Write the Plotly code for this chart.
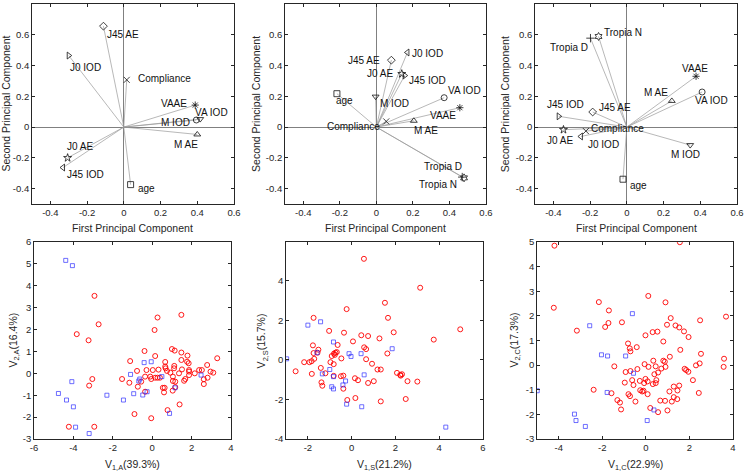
import plotly.graph_objects as go

# ---- PCA loadings (first / second principal component) ----
names_a = ["J45 AE", "J0 IOD", "Compliance", "VAAE", "VA IOD", "M IOD", "M AE", "J0 AE", "J45 IOD", "age"]
pc1_a = [-0.111, -0.300, 0.016, 0.389, 0.395, 0.416, 0.400, -0.306, -0.331, 0.037]
pc2_a = [0.656, 0.465, 0.307, 0.143, 0.046, 0.052, -0.048, -0.200, -0.263, -0.374]

names_s = ["J0 IOD", "J45 AE", "J0 AE", "J45 IOD", "VA IOD", "age", "M IOD", "VAAE",
           "Compliance", "M AE", "Tropia D", "Tropia N"]
pc1_s = [0.170, 0.082, 0.139, 0.155, 0.371, -0.216, -0.004, 0.457, 0.054, 0.205, 0.470, 0.480]
pc2_s = [0.485, 0.435, 0.346, 0.335, 0.191, 0.217, 0.198, 0.126, 0.037, 0.041, -0.325, -0.330]

names_c = ["Tropia D", "Tropia N", "VAAE", "VA IOD", "M AE", "J45 AE", "J45 IOD", "J0 AE",
           "Compliance", "J0 IOD", "M IOD", "age"]
pc1_c = [-0.198, -0.154, 0.377, 0.410, 0.245, -0.186, -0.371, -0.345, -0.223, -0.250, 0.345, -0.021]
pc2_c = [0.578, 0.589, 0.330, 0.228, 0.170, 0.098, 0.070, -0.017, -0.026, -0.061, -0.117, -0.339]

# ---- scores, group A ----
a_red_x = [-2.93, -2.72, -3.83, -3.23, -3.04, -3.20, -4.23, -2.94, -0.90, -0.05, 0.27, 0.12, 1.48,
           -0.39, 0.15, -1.12, -1.53, -1.16, -0.77, -0.73, -0.56, -0.36, -0.29, -0.36, -0.10, -0.05,
           0.03, 0.15, 0.27, 0.32, 0.39, 0.66, 0.66, 0.68, 0.75, 0.54, 0.60, 0.63, 0.92, 0.78, 1.00,
           1.14, 1.12, 1.11, 1.05, 1.05, 1.04, 1.17, 1.17, 1.36, 1.39, 1.48, 1.48, 1.51, 1.62, 1.68,
           1.79, 1.77, 1.85, 1.87, 1.87, 1.87, 2.16, 2.38, 2.52, 2.62, 2.62, 2.79, 2.81, 2.96, 3.10, 3.30]
a_red_y = [3.54, 2.24, 1.79, 1.51, -0.26, -0.56, -2.44, -2.44, -1.86, -2.05, 2.55, 1.98, 2.67,
           1.02, 0.79, 0.56, -0.26, -0.43, 0.11, -0.61, -0.38, -0.84, 0.15, -0.15, -0.15, -0.26,
           0.15, -0.20, -0.20, 0.17, -0.20, 0.52, 0.31, 0.23, 0.11, -0.66, -0.87, -0.66, 0.03, -1.68, 1.11,
           1.04, 0.34, 0.23, -0.15, -0.35, -0.79, -0.38, -0.63, 0.00, -1.42, 0.95, 0.61, 0.18, -0.34, -0.26,
           0.81, 0.53, 0.46, 0.08, -0.08, 0.15, 0.00, 0.15, 0.15, -0.27, -0.49, 0.38, -0.20, 0.08, 0.03, 0.69]
a_blue_x = [-4.39, -4.05, -4.08, -4.76, -4.35, -4.00, -3.89, -3.20, -2.30, -1.46, -1.10, -0.94,
            -0.63, -0.68, -0.48, -0.41, -0.26, -0.05, 0.49, 1.16, 0.88, 2.48]
a_blue_y = [5.16, 4.92, -0.38, -0.92, -1.22, -1.53, -2.46, -2.75, -1.00, -1.22, -0.05, -0.93,
            -0.26, -0.35, -0.99, 0.49, -0.84, 0.53, -0.15, -0.66, -1.83, -0.08]

# ---- scores, group S ----
s_red_x = [0.56, 3.13, 1.52, -0.23, -1.74, 1.66, -1.03, -0.35, 0.44, 0.75, 1.27, 1.92, 4.96, 3.75,
           0.06, -1.77, -0.64, 0.57, 0.66, 1.63, -1.52, -1.56, -1.74, -0.91, -0.81, -0.74, -0.68, -0.77,
           -1.71, -1.83, -2.17, -1.93, -2.56, -0.97, -0.82, -0.47, 0.66, 0.93, -1.41, -1.82, -1.20, -1.38,
           -1.34, -0.82, -0.49, -0.38, -0.38, 0.15, 0.29, 0.75, 1.01, 1.18, 1.33, 2.07, 2.22, 2.24, 2.30,
           2.55, 3.00, -0.20, 0.17, 1.33, 2.47]
s_red_y = [5.10, 3.64, 2.88, 2.56, 2.12, 2.12, 1.46, 1.37, 1.24, 1.20, 1.08, 1.39, 1.54, 1.02,
           0.93, 0.73, 0.75, 0.63, 0.54, 0.32, 0.51, 0.36, 0.34, 0.19, 0.31, 0.36, 0.39, 0.25,
           0.05, -0.07, -0.12, -0.12, -0.58, -0.12, -0.22, 0.07, 0.03, -0.20, -0.41, -0.71, -0.68, -1.14,
           -1.31, -0.81, -0.83, -0.80, -1.46, -0.93, -1.03, -1.17, -1.08, -0.49, -0.49, -0.66, -0.76, -0.80, -0.73,
           -1.08, -1.10, -2.03, -1.93, -2.10, -1.98]
s_blue_x = [-2.97, -2.00, -1.42, -1.58, -1.34, -1.00, -0.83, -0.83, -0.91, -0.83, -0.28, -0.40,
            -0.12, -0.03, 0.43, 0.57, -0.23, 0.46, 1.85, 4.30]
s_blue_y = [0.05, 1.75, 1.92, 0.36, -0.71, -0.49, 0.90, -0.85, -1.36, -1.47, -1.07, -1.27,
            0.31, 0.17, 0.31, -0.76, -2.24, -2.37, 0.56, -3.40]

# ---- scores, group C ----
c_red_x = [-4.20, 1.56, -4.23, -3.17, -2.16, -1.70, -1.72, -1.87, -1.10, 0.11, 0.90, 1.14, 0.97, 1.36,
           1.53, 1.75, 1.96, 2.49, 3.68, -0.02, 0.31, 0.53, 0.80, 1.58, 2.53, -0.82, -0.42, -0.74, -0.71,
           -1.45, -0.93, -0.71, -0.63, -0.57, -0.39, -0.06, 0.12, 0.34, 0.45, 0.71, 0.90, 0.80, 0.87, 1.10,
           0.39, 0.56, -0.02, 0.08, -0.08, 0.48, 0.45, 0.32, -0.28, -0.11, -0.17, -0.26, 0.08, -0.97, -0.80,
           -0.73, -1.31, -1.19, -1.14, -0.48, -1.58, -2.40, 1.08, 1.28, 1.53, 1.45, 1.28, 1.19, 0.88, 0.66,
           1.44, 0.99, 0.56, 0.20, 1.78, 1.85, 1.95, 2.30, 2.16, 2.47, 2.43, 3.59, 3.57]
c_red_y = [4.85, 4.99, 2.33, 1.40, 2.56, 2.22, 1.71, 1.55, 1.74, 2.81, 2.55, 1.91, 1.64, 1.61,
           1.53, 1.37, 1.14, 1.82, 1.97, 1.21, 1.34, 1.36, 0.96, 0.62, 0.46, 0.88, 0.73, 0.68, 0.56,
           -0.05, -0.28, -0.24, -0.61, -0.81, -0.16, 0.04, -0.07, 0.18, -0.05, -0.14, -0.07, 0.18, 0.14, 0.34,
           -0.37, -0.30, -0.56, -0.66, -0.73, -0.61, -0.73, -0.77, -0.64, -1.04, -1.07, -1.02, -1.18, -0.71, -1.18,
           -1.26, -1.42, -1.52, -1.80, -1.48, -1.14, -1.00, -1.07, -0.87, -0.83, -1.03, -1.30, -1.48, -1.45, -1.44,
           -1.38, -1.84, -1.91, -1.74, -0.15, -0.20, -0.27, -0.01, -0.61, 0.07, -1.13, 0.26, -0.07]
c_blue_x = [-4.99, -3.28, -3.21, -2.78, -2.58, -2.04, -1.76, -1.78, -0.93, -0.62, -0.57, 0.37, 0.06]
c_blue_y = [-1.04, -1.99, -2.25, -2.49, 1.60, 0.42, 0.37, -1.11, 0.37, 2.09, -0.33, -1.82, -2.25]

# ---- marker symbols and label placement (style) ----
sym_a = ["diamond-open", "triangle-right-open", "x-thin-open", "asterisk-open", "circle-open",
         "triangle-down-open", "triangle-up-open", "star-open", "triangle-left-open", "square-open"]
lab_a = [("left", 2, -8), ("left", -1, -12), ("left", 9, 1), ("right", -6, 2), ("left", -3, 8),
         ("right", -8, -3), ("center", -11, -10), ("left", -3, 11), ("left", 2, -7), ("left", 5, -4)]
sym_s = ["triangle-left-open", "diamond-open", "star-open", "triangle-right-open", "circle-open",
         "square-open", "triangle-down-open", "asterisk-open", "x-thin-open", "triangle-up-open",
         "cross-thin-open", "hexagram-open"]
lab_s = [("left", 3, -1), ("right", -9, 0), ("right", -7, 0), ("left", 2, -5), ("left", 2, 7),
         ("left", -3, -7), ("left", 2, -7), ("right", -2, -8), ("right", -4, -5), ("left", -2, -10),
         ("right", 2, 11), ("right", -5, -7)]
sym_c = ["cross-thin-open", "hexagram-open", "asterisk-open", "circle-open", "triangle-up-open",
         "diamond-open", "triangle-right-open", "star-open", "x-thin-open", "triangle-left-open",
         "triangle-down-open", "square-open"]
lab_c = [("right", 0, -9), ("left", 3, 4), ("center", -1, 8), ("left", -9, -8), ("right", -2, 8),
         ("left", 4, 5), ("left", -14, 12), ("left", -18, -11), ("left", 3, 3), ("left", 5, -8),
         ("center", -5, -9), ("left", 5, -6)]

FONT = "Liberation Sans, Arial, sans-serif"
INK = "#262626"
GRAY = "#999999"

fig = go.Figure()
annotations = []

biplots = [
    (names_a, pc1_a, pc2_a, sym_a, lab_a, "x", "y"),
    (names_s, pc1_s, pc2_s, sym_s, lab_s, "x2", "y2"),
    (names_c, pc1_c, pc2_c, sym_c, lab_c, "x3", "y3"),
]
for names, px, py, syms, labs, xa, ya in biplots:
    lx, ly = [], []
    for a, b in zip(px, py):
        lx += [0, a, None]
        ly += [0, b, None]
    fig.add_trace(go.Scatter(x=lx, y=ly, mode="lines", xaxis=xa, yaxis=ya,
                             line=dict(color=GRAY, width=0.7), hoverinfo="skip", showlegend=False))
    fig.add_trace(go.Scatter(x=px, y=py, mode="markers", xaxis=xa, yaxis=ya, text=names,
                             marker=dict(symbol=syms, size=6, color="#111111",
                                         line=dict(color="#111111", width=0.8)),
                             showlegend=False))
    for n, a, b, (anc, dx, dy) in zip(names, px, py, labs):
        annotations.append(dict(x=a, y=b, xref=xa, yref=ya, text=n, showarrow=False,
                                xanchor=anc, yanchor="middle", xshift=dx, yshift=dy,
                                font=dict(family=FONT, size=10, color="#111111")))

scores = [
    (a_red_x, a_red_y, a_blue_x, a_blue_y, "x4", "y4"),
    (s_red_x, s_red_y, s_blue_x, s_blue_y, "x5", "y5"),
    (c_red_x, c_red_y, c_blue_x, c_blue_y, "x6", "y6"),
]
for rx, ry, bx, by, xa, ya in scores:
    fig.add_trace(go.Scatter(x=rx, y=ry, mode="markers", xaxis=xa, yaxis=ya, showlegend=False,
                             marker=dict(symbol="circle-open", size=5, color="#ff0000",
                                         line=dict(color="#ff0000", width=0.9))))
    fig.add_trace(go.Scatter(x=bx, y=by, mode="markers", xaxis=xa, yaxis=ya, showlegend=False,
                             marker=dict(symbol="square-open", size=4, color="rgba(40,40,255,0.75)",
                                         line=dict(color="rgba(40,40,255,0.75)", width=0.9))))


def ticks(vals, dec):
    return ["0" if v == 0 else f"{v:.{dec}f}" for v in vals]


def axis(domain, rng, tv, dec, anchor, zero=False):
    return dict(domain=domain, range=rng, anchor=anchor, tickvals=tv, ticktext=ticks(tv, dec),
                automargin=False,
                showline=True, mirror="ticks", linecolor=INK, linewidth=0.8,
                ticks="inside", ticklen=3, tickcolor=INK, tickwidth=0.8,
                showgrid=False, zeroline=zero, zerolinecolor="#808080", zerolinewidth=0.8,
                tickfont=dict(family=FONT, size=9.5, color=INK), fixedrange=True)


pc_x = [-0.4, -0.2, 0, 0.2, 0.4, 0.6]
pc_y = [-0.4, -0.2, 0, 0.2, 0.4, 0.6, 0.8]
top_y = [0.5678, 0.9915]
bot_y = [0.0699, 0.4873]

fig.update_layout(
    template="none",
    width=744, height=472, margin=dict(l=0, r=0, t=0, b=0, pad=0),
    paper_bgcolor="white", plot_bgcolor="white", showlegend=False,
    xaxis=axis([0.0430, 0.3145], [-0.5, 0.6], pc_x, 1, "y", True),
    yaxis=axis(top_y, [-0.5, 0.8], pc_y, 1, "x", True),
    xaxis2=axis([0.3831, 0.6532], [-0.5, 0.6], pc_x, 1, "y2", True),
    yaxis2=axis(top_y, [-0.5, 0.8], pc_y, 1, "x2", True),
    xaxis3=axis([0.7191, 0.9906], [-0.5, 0.6], pc_x, 1, "y3", True),
    yaxis3=axis(top_y, [-0.5, 0.8], pc_y, 1, "x3", True),
    xaxis4=axis([0.0457, 0.3105], [-6, 4], [-6, -4, -2, 0, 2, 4], 0, "y4"),
    yaxis4=axis(bot_y, [-3, 6], [-3, -2, -1, 0, 1, 2, 3, 4, 5, 6], 0, "x4"),
    xaxis5=axis([0.3844, 0.6492], [-3, 6], [-2, 0, 2, 4, 6], 0, "y5"),
    yaxis5=axis(bot_y, [-4, 5.95], [-4, -2, 0, 2, 4], 0, "x5"),
    xaxis6=axis([0.7218, 0.9852], [-5, 4], [-4, -2, 0, 2, 4], 0, "y6"),
    yaxis6=axis(bot_y, [-3, 5], [-3, -2, -1, 0, 1, 2, 3, 4, 5], 0, "x6"),
)

# axis titles
title_font = dict(family=FONT, size=10.5, color=INK)
for cx in [(0.0430 + 0.3145) / 2, (0.3831 + 0.6532) / 2, (0.7191 + 0.9906) / 2]:
    annotations.append(dict(x=cx, y=0.517, xref="paper", yref="paper", showarrow=False,
                            xanchor="center", yanchor="middle",
                            text="First Principal Component", font=title_font))
for px_ in [0.0075, 0.344, 0.679]:
    annotations.append(dict(x=px_, y=0.7797, xref="paper", yref="paper", showarrow=False,
                            xanchor="center", yanchor="middle",
                            text="Second Principal Component", textangle=-90, font=title_font))
x_titles = ["V<sub>1,A</sub>(39.3%)", "V<sub>1,S</sub>(21.2%)", "V<sub>1,C</sub>(22.9%)"]
y_titles = ["V<sub>2,A</sub>(16.4%)", "V<sub>2,S</sub>(15.7%)", "V<sub>2,C</sub>(17.3%)"]
for cx, t in zip([(0.0457 + 0.3105) / 2, (0.3844 + 0.6492) / 2, (0.7218 + 0.9852) / 2], x_titles):
    annotations.append(dict(x=cx, y=1 - 456 / 472, xref="paper", yref="paper", showarrow=False,
                            xanchor="center", yanchor="top", text=t, font=title_font))
for px_, t in zip([0.0175, 0.352, 0.691], y_titles):
    annotations.append(dict(x=px_, y=0.2786, xref="paper", yref="paper", showarrow=False,
                            xanchor="center", yanchor="middle",
                            text=t, textangle=-90, font=title_font))

fig.update_layout(annotations=annotations)
fig.write_html("out.html", config={"displayModeBar": False},
               post_script="document.body.style.margin='0px';")
